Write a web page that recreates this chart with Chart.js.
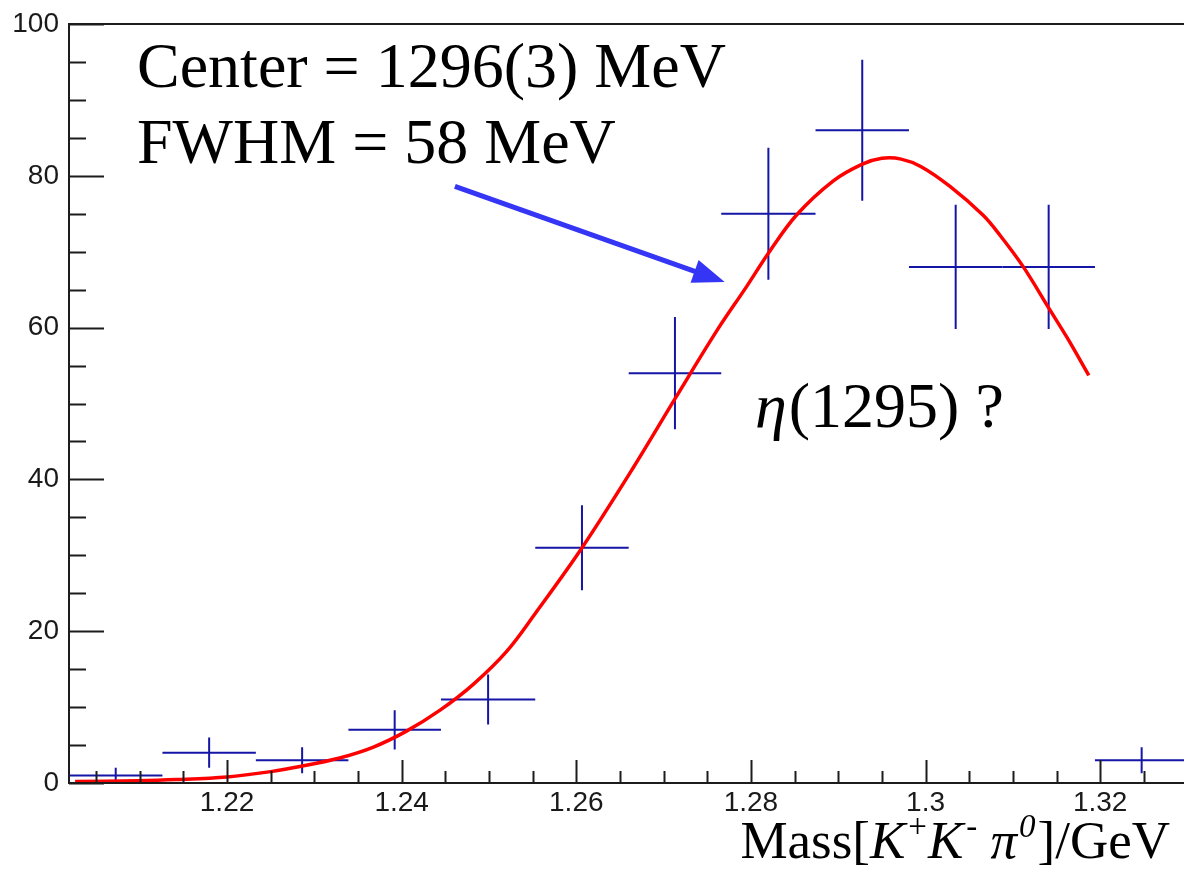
<!DOCTYPE html>
<html>
<head>
<meta charset="utf-8">
<script src="https://cdn.jsdelivr.net/npm/chart.js@4.4.1/dist/chart.umd.min.js"></script>
<style>
    html, body { margin: 0; padding: 0; background: #fff; }
    #grafico { display: block; }
</style>
</head>
<body>
<canvas id="grafico" width="1184" height="870"></canvas>
<script>
// histograma (bordas dos bins em GeV, contagens e erros)
const bordasDosBins = [1.2019, 1.2126, 1.2233, 1.2339, 1.2445, 1.2553, 1.2660, 1.2766, 1.2874, 1.2981, 1.3088, 1.3194, 1.3301];
const contagens = [1, 4, 3, 7, 11, 31, 54, 75, 86, 68, 68, 3];
const erros = [1, 2, 1.7, 2.6, 3.3, 5.6, 7.4, 8.7, 9.3, 8.2, 8.2, 1.7];

// curva do ajuste
const ajusteMassa = [1.2026, 1.2097, 1.2142, 1.2200, 1.2250, 1.2285, 1.2329, 1.2367, 1.2405, 1.2444, 1.2482, 1.2520, 1.2554, 1.2606, 1.2665, 1.2714, 1.2761, 1.2795, 1.2820, 1.2852, 1.2894, 1.2927, 1.2950, 1.2972, 1.2995, 1.3028, 1.3066, 1.3085, 1.3112, 1.3141, 1.3162, 1.3187];
const ajusteValor = [0.2, 0.3, 0.45, 0.8, 1.5, 2.2, 3.3, 4.7, 6.8, 9.6, 13.0, 17.3, 22.5, 30.9, 41.5, 50.8, 59.6, 65.4, 69.8, 74.8, 79.3, 81.5, 82.3, 82.2, 81.2, 78.6, 74.8, 72.2, 68.0, 62.6, 58.7, 53.7];

const rotulosX = [1.22, 1.24, 1.26, 1.28, 1.30, 1.32];
const rotulosY = [0, 20, 40, 60, 80, 100];

const textoCentro = "Center = 1296(3) MeV";
const textoLargura = "FWHM = 58 MeV";
const textoEta = "(1295) ?";

const SERIF = "'Liberation Serif', 'Times New Roman', serif";
const SANS = "'Liberation Sans', Arial, sans-serif";

const cruzesDeErro = {
    id: "cruzesDeErro",
    beforeDatasetsDraw(chart) {
        const { ctx, chartArea, scales: { x, y } } = chart;
        ctx.save();
        ctx.strokeStyle = "#1616a6";
        ctx.lineWidth = 2;
        contagens.forEach((n, i) => {
            const x0 = Math.max(x.getPixelForValue(bordasDosBins[i]), chartArea.left);
            const x1 = Math.min(x.getPixelForValue(bordasDosBins[i + 1]), chartArea.right);
            const xc = x.getPixelForValue((bordasDosBins[i] + bordasDosBins[i + 1]) / 2);
            const yc = y.getPixelForValue(n);
            ctx.beginPath();
            ctx.moveTo(x0, yc);
            ctx.lineTo(x1, yc);
            ctx.moveTo(xc, y.getPixelForValue(Math.max(n - erros[i], 0)));
            ctx.lineTo(xc, y.getPixelForValue(n + erros[i]));
            ctx.stroke();
        });
        ctx.restore();
    }
};

const moldura = {
    id: "moldura",
    afterDatasetsDraw(chart) {
        const { ctx, chartArea: a, scales: { x, y } } = chart;
        ctx.save();
        ctx.strokeStyle = "#1c1c1c";
        ctx.lineWidth = 2;
        ctx.beginPath();
        ctx.moveTo(a.right, a.top);
        ctx.lineTo(a.left, a.top);
        ctx.lineTo(a.left, a.bottom);
        ctx.lineTo(a.right, a.bottom);
        ctx.stroke();

        // marcas do eixo x, para dentro
        const passoX = (rotulosX[1] - rotulosX[0]) / 4;
        ctx.beginPath();
        for (let k = -4; k <= (rotulosX.length - 1) * 4 + 4; k++) {
            const v = rotulosX[0] + k * passoX;
            if (v < x.min || v > x.max) continue;
            const px = Math.round(x.getPixelForValue(v)) + 0.5;
            const tam = k % 4 === 0 ? 23 : 12;
            ctx.moveTo(px, a.bottom);
            ctx.lineTo(px, a.bottom - tam);
        }
        // marcas do eixo y
        const passoY = (rotulosY[1] - rotulosY[0]) / 4;
        for (let v = rotulosY[0]; v <= rotulosY[rotulosY.length - 1]; v += passoY) {
            const py = Math.round(y.getPixelForValue(v)) + 0.5;
            const tam = v % (rotulosY[1] - rotulosY[0]) === 0 ? 35 : 17;
            ctx.moveTo(a.left, py);
            ctx.lineTo(a.left + tam, py);
        }
        ctx.stroke();
        ctx.restore();
    },
    afterDraw(chart) {
        const { ctx, scales: { x, y } } = chart;
        ctx.save();
        ctx.fillStyle = "#000";
        ctx.textBaseline = "alphabetic";
        ctx.textAlign = "left";
        ctx.font = `64px ${SERIF}`;
        ctx.fillText(textoCentro, 137, 87);
        ctx.fillText(textoLargura, 137, 163);

        ctx.font = `italic 64px ${SERIF}`;
        ctx.fillText("\u03b7", 755, 427);
        const larguraEta = ctx.measureText("\u03b7").width;
        ctx.font = `64px ${SERIF}`;
        ctx.fillText(textoEta, 755 + larguraEta + 2, 427);

        // seta azul
        const xa = x.getPixelForValue(1.2461), ya = y.getPixelForValue(78.6);
        const xb = x.getPixelForValue(1.2770), yb = y.getPixelForValue(66.0);
        const ang = Math.atan2(yb - ya, xb - xa);
        const comp = 32, meia = 12;
        const xBase = xb - comp * Math.cos(ang), yBase = yb - comp * Math.sin(ang);
        ctx.strokeStyle = "#3535f5";
        ctx.fillStyle = "#3535f5";
        ctx.lineWidth = 5;
        ctx.beginPath();
        ctx.moveTo(xa, ya);
        ctx.lineTo(xBase + 4 * Math.cos(ang), yBase + 4 * Math.sin(ang));
        ctx.stroke();
        ctx.beginPath();
        ctx.moveTo(xb, yb);
        ctx.lineTo(xBase + meia * Math.sin(ang), yBase - meia * Math.cos(ang));
        ctx.lineTo(xBase - meia * Math.sin(ang), yBase + meia * Math.cos(ang));
        ctx.closePath();
        ctx.fill();

        // titulo do eixo x
        const tam = 53;
        const pedacos = [
            { t: "Mass[", it: false, sup: false, gap: 0 },
            { t: "K", it: true, sup: false, gap: 3 },
            { t: "+", it: false, sup: true, gap: 1 },
            { t: "K", it: true, sup: false, gap: 3 },
            { t: "-", it: false, sup: true, gap: 0 },
            { t: " ", it: false, sup: false, gap: 0 },
            { t: "\u03c0", it: true, sup: false, gap: 2 },
            { t: "0", it: true, sup: true, gap: 2 },
            { t: "]/GeV", it: false, sup: false, gap: 0 }
        ];
        const fonte = p => `${p.it ? "italic " : ""}${p.sup ? Math.round(tam * 0.62) : tam}px ${SERIF}`;
        let total = 0;
        pedacos.forEach(p => { ctx.font = fonte(p); total += ctx.measureText(p.t).width + p.gap; });
        let cx = 1170 - total;
        ctx.fillStyle = "#000";
        pedacos.forEach(p => {
            ctx.font = fonte(p);
            ctx.fillText(p.t, cx, 858 - (p.sup ? tam * 0.4 : 0));
            cx += ctx.measureText(p.t).width + p.gap;
        });
        ctx.restore();
    }
};

function criarGrafico(ctx) {
    return new Chart(ctx, {
        type: "scatter",
        data: {
            datasets: [
                {
                    label: "dados",
                    data: contagens.map((n, i) => ({ x: (bordasDosBins[i] + bordasDosBins[i + 1]) / 2, y: n })),
                    pointRadius: 0,
                    showLine: false
                },
                {
                    label: "ajuste",
                    type: "line",
                    data: ajusteMassa.map((m, i) => ({ x: m, y: ajusteValor[i] })),
                    borderColor: "#ff0000",
                    borderWidth: 3.5,
                    pointRadius: 0,
                    tension: 0.35,
                    fill: false
                }
            ]
        },
        options: {
            responsive: false,
            animation: false,
            devicePixelRatio: 1,
            layout: { padding: { top: 20, right: 0, left: 0, bottom: 0 } },
            plugins: { legend: { display: false }, tooltip: { enabled: false } },
            scales: {
                x: {
                    type: "linear",
                    min: 1.2019,
                    max: 1.3296,
                    grid: { display: false, drawTicks: false },
                    border: { display: false },
                    afterBuildTicks: s => { s.ticks = rotulosX.map(v => ({ value: v })); },
                    afterFit: s => { s.height = 87; },
                    ticks: {
                        padding: 6,
                        color: "#1a1a1a",
                        font: { family: SANS, size: 28, lineHeight: 1 },
                        maxRotation: 0,
                        autoSkip: false,
                        callback: v => String(Number(v.toFixed(2)))
                    }
                },
                y: {
                    min: 0,
                    max: 100,
                    grid: { display: false, drawTicks: false },
                    border: { display: false },
                    afterBuildTicks: s => { s.ticks = rotulosY.map(v => ({ value: v })); },
                    afterFit: s => { s.width = 69; },
                    ticks: {
                        padding: 10,
                        color: "#1a1a1a",
                        font: { family: SANS, size: 28, lineHeight: 1 }
                    }
                }
            }
        },
        plugins: [cruzesDeErro, moldura]
    });
}

criarGrafico(document.querySelector("#grafico"));
</script>
</body>
</html>
